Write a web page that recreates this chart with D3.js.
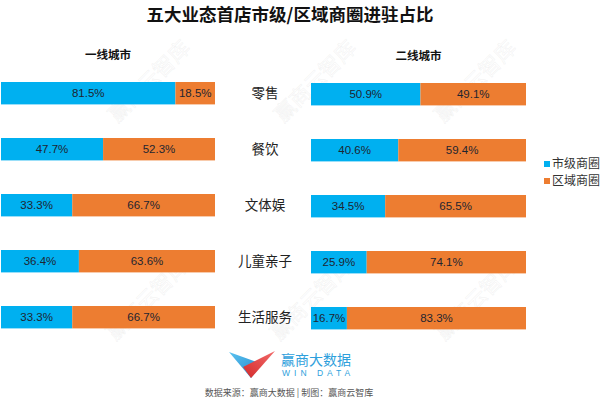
<!DOCTYPE html>
<html>
<head>
<meta charset="utf-8">
<script src="https://cdn.jsdelivr.net/npm/d3@7"></script>
<style>
  body { margin: 0; background: #fff; }
  svg { display: block; }
</style>
</head>
<body>
<svg id="chart" width="600" height="398"></svg>
<script>
// data
const categories = ['零售', '餐饮', '文体娱', '儿童亲子', '生活服务'];
const seriesNames = ['市级商圈', '区域商圈'];
const panelTitles = ['一线城市', '二线城市'];
const tier1City = [81.5, 47.7, 33.3, 36.4, 33.3];
const tier1Region = [18.5, 52.3, 66.7, 63.6, 66.7];
const tier2City = [50.9, 40.6, 34.5, 25.9, 16.7];
const tier2Region = [49.1, 59.4, 65.5, 74.1, 83.3];

const colors = ['#00b0f0', '#ed7d31'];
const cjk = '"Noto Sans CJK SC", sans-serif';

const svg = d3.select('#chart');

// faint watermarks
const marks = [[148, 80], [314, 80], [474, 80], [146, 298], [310, 298], [475, 298]];
svg.append('g').selectAll('text')
    .data(marks)
    .join('text')
    .attr('transform', d => `translate(${d[0]},${d[1]}) rotate(-45)`)
    .attr('text-anchor', 'middle')
    .attr('dominant-baseline', 'central')
    .style('font-family', cjk)
    .style('font-size', '21px')
    .attr('fill', 'none')
    .attr('stroke', '#b8b8b8')
    .attr('stroke-opacity', 0.18)
    .attr('stroke-width', 0.6)
    .text('赢商云智库');

// title
svg.append('text')
    .attr('x', 290).attr('y', 20.5)
    .attr('text-anchor', 'middle')
    .style('font-family', cjk)
    .style('font-size', '17.5px')
    .style('font-weight', 'bold')
    .attr('fill', '#111')
    .text('五大业态首店市级/区域商圈进驻占比');

const y = d3.scaleBand()
    .domain(categories)
    .range([65.2, 345.2])
    .paddingInner(0.6)
    .paddingOuter(0.3);

const panels = [
    { title: panelTitles[0], city: tier1City, region: tier1Region, range: [1, 215], dy: 0 },
    { title: panelTitles[1], city: tier2City, region: tier2Region, range: [311, 526], dy: 1 }
];

panels.forEach(p => {
    const x = d3.scaleLinear().domain([0, 100]).range(p.range);
    const g = svg.append('g').attr('transform', `translate(0,${p.dy})`);

    g.append('text')
        .attr('x', (p.range[0] + p.range[1]) / 2).attr('y', 59)
        .attr('text-anchor', 'middle')
        .style('font-family', cjk)
        .style('font-size', '11.5px')
        .style('font-weight', 'bold')
        .attr('fill', '#111')
        .text(p.title);

    const rows = categories.map((c, i) => ({
        cat: c,
        segs: [
            { key: 0, x0: 0, x1: p.city[i], v: p.city[i] },
            { key: 1, x0: p.city[i], x1: p.city[i] + p.region[i], v: p.region[i] }
        ]
    }));

    const row = g.selectAll('g.row')
        .data(rows)
        .join('g')
        .attr('class', 'row')
        .attr('transform', d => `translate(0,${y(d.cat)})`);

    row.selectAll('rect')
        .data(d => d.segs)
        .join('rect')
        .attr('x', d => x(d.x0))
        .attr('width', d => x(d.x1) - x(d.x0))
        .attr('height', y.bandwidth())
        .attr('fill', d => colors[d.key]);

    row.selectAll('text')
        .data(d => d.segs)
        .join('text')
        .attr('x', d => (x(d.x0) + x(d.x1)) / 2)
        .attr('y', y.bandwidth() / 2)
        .attr('dy', '0.36em')
        .attr('text-anchor', 'middle')
        .style('font-family', '"Liberation Sans", Arial, sans-serif')
        .style('font-size', '11.5px')
        .attr('fill', '#1e2530')
        .text(d => d.v.toFixed(1) + '%');
});

// category labels in the middle
svg.append('g').selectAll('text')
    .data(categories)
    .join('text')
    .attr('x', 265)
    .attr('y', d => y(d) + y.bandwidth() / 2)
    .attr('dy', '0.36em')
    .attr('text-anchor', 'middle')
    .style('font-family', cjk)
    .style('font-size', '13.5px')
    .attr('fill', '#222')
    .text(d => d);

// legend
const legend = svg.append('g').selectAll('g')
    .data(seriesNames)
    .join('g')
    .attr('transform', (d, i) => `translate(544,${164 + i * 17})`);
legend.append('rect')
    .attr('x', 0).attr('y', -3)
    .attr('width', 6).attr('height', 6)
    .attr('fill', (d, i) => colors[i]);
legend.append('text')
    .attr('x', 8).attr('y', 0)
    .attr('dy', '0.36em')
    .style('font-family', cjk)
    .style('font-size', '12px')
    .attr('fill', '#333')
    .text(d => d);

// logo
const defs = svg.append('defs');
const gb = defs.append('linearGradient').attr('id', 'gb').attr('x1', 0).attr('y1', 0).attr('x2', 1).attr('y2', 1);
gb.append('stop').attr('offset', 0).attr('stop-color', '#5cc3f0');
gb.append('stop').attr('offset', 1).attr('stop-color', '#1e86cc');
const gr = defs.append('linearGradient').attr('id', 'gr').attr('x1', 1).attr('y1', 0).attr('x2', 0).attr('y2', 1);
gr.append('stop').attr('offset', 0).attr('stop-color', '#f26a6a');
gr.append('stop').attr('offset', 1).attr('stop-color', '#d42a2a');

const logo = svg.append('g');
logo.append('path')
    .attr('d', d3.line()([[229, 352], [262, 364], [251, 378]]) + 'Z')
    .attr('fill', 'url(#gb)');
logo.append('path')
    .attr('d', d3.line()([[275, 351], [243, 367], [251, 378]]) + 'Z')
    .attr('fill', 'url(#gr)');
logo.append('text')
    .attr('x', 281).attr('y', 365)
    .style('font-family', cjk)
    .style('font-size', '14px')
    .attr('fill', '#2e9fdc')
    .text('赢商大数据');
logo.append('text')
    .attr('x', 282).attr('y', 376)
    .style('font-family', '"Liberation Sans", Arial, sans-serif')
    .style('font-size', '8.5px')
    .style('letter-spacing', '4px')
    .attr('fill', '#2e9fdc')
    .text('WIN DATA');

// source
svg.append('text')
    .attr('x', 289).attr('y', 396)
    .attr('text-anchor', 'middle')
    .style('font-family', cjk)
    .style('font-size', '9px')
    .attr('fill', '#555')
    .text('数据来源：赢商大数据 | 制图：赢商云智库');
</script>
</body>
</html>
